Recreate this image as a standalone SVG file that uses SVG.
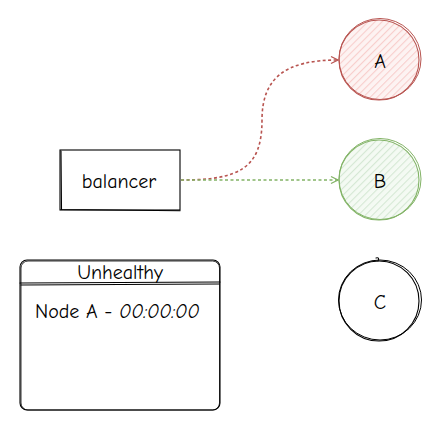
<svg xmlns="http://www.w3.org/2000/svg" width="442" height="431" viewBox="0 0 442 431">
<style>
.t{font-family:"Comic Neue","Liberation Sans",sans-serif;font-size:20px;fill:#000;text-anchor:middle;dominant-baseline:central}
.sk{fill:none;stroke:#000;stroke-width:1.1;stroke-linecap:round}
.e{fill:none;stroke-width:1.6;stroke-dasharray:3 2.5}
</style>
<defs>
<pattern id="hr" patternUnits="userSpaceOnUse" width="5" height="5" patternTransform="rotate(45)">
<rect width="5" height="5" fill="#fdf3f2"/><line x1="0" y1="0" x2="0" y2="5" stroke="#f8cecc" stroke-width="2.2"/>
</pattern>
<pattern id="hg" patternUnits="userSpaceOnUse" width="5" height="5" patternTransform="rotate(45)">
<rect width="5" height="5" fill="#f4faf3"/><line x1="0" y1="0" x2="0" y2="5" stroke="#d5e8d4" stroke-width="2.2"/>
</pattern>
<marker id="ar" markerWidth="10" markerHeight="10" refX="8" refY="5" orient="auto" markerUnits="userSpaceOnUse">
<path d="M1,1.5 L8,5 L1,8.5" fill="none" stroke="#b85450" stroke-width="1.3"/>
</marker>
<marker id="ag" markerWidth="10" markerHeight="10" refX="8" refY="5" orient="auto" markerUnits="userSpaceOnUse">
<path d="M1,1.5 L8,5 L1,8.5" fill="none" stroke="#82b366" stroke-width="1.3"/>
</marker>
</defs>
<g id="connectors">
<path class="e" stroke="#b85450" d="M181,180 C240,180 262,168 262,120 C262,78 285,60 338,60" marker-end="url(#ar)"/>
<path class="e" stroke="#82b366" d="M181,180 L338,180" marker-end="url(#ag)"/>
</g>
<g id="nodeA">
<circle cx="379" cy="60" r="40" fill="url(#hr)" stroke="#b85450" stroke-width="1.1"/>
<ellipse cx="380" cy="59" rx="41" ry="40.5" fill="none" stroke="#b85450" stroke-width="1"/>
<text class="t" x="380" y="61">A</text>
</g>
<g id="nodeB">
<circle cx="379" cy="180" r="40" fill="url(#hg)" stroke="#82b366" stroke-width="1.1"/>
<ellipse cx="380" cy="179" rx="41" ry="40.5" fill="none" stroke="#82b366" stroke-width="1"/>
<text class="t" x="380" y="181">B</text>
</g>
<g id="nodeC">
<circle cx="379" cy="301" r="40" fill="#fff" stroke="#000" stroke-width="1.1"/>
<ellipse cx="380" cy="300" rx="41.5" ry="40" fill="none" stroke="#000" stroke-width="1"/>
<path class="sk" d="M376,258 Q380,257 378,261"/>
<text class="t" x="380" y="302">C</text>
</g>
<g id="balancer">
<rect x="60" y="150" width="120" height="60" fill="#fff" stroke="#000" stroke-width="1.1"/>
<path class="sk" d="M61,209.5 L180,210.8 M61,151 L61.5,209"/>
<text class="t" x="119" y="181">balancer</text>
</g>
<g id="unhealthy">
<rect x="20" y="260" width="200" height="150" rx="7" fill="#fff" stroke="#000" stroke-width="1.1"/>
<rect x="21" y="261" width="198.5" height="149" rx="7" fill="none" stroke="#000" stroke-width="0.8"/>
<path class="sk" d="M20,283 L220,282 M21,285 L219,284"/>
<text class="t" x="120" y="272">Unhealthy</text>
<text x="35" y="311" font-family="Comic Neue,Liberation Sans,sans-serif" font-size="20" fill="#000" dominant-baseline="central">Node A - <tspan font-style="italic">00:00:00</tspan></text>
</g>
</svg>
